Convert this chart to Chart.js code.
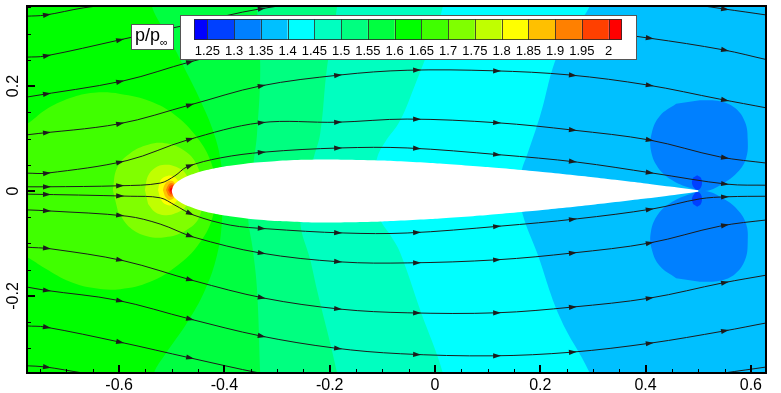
<!DOCTYPE html>
<html>
<head>
<meta charset="utf-8">
<script src="https://cdn.jsdelivr.net/npm/chart.js@4.4.0/dist/chart.umd.min.js"></script>
<style>
  html, body { margin: 0; padding: 0; background: #fff; }
  canvas { display: block; }
</style>
</head>
<body>
<canvas id="chart" width="781" height="393"></canvas>
<script>
// axis ticks
const xTicks = [-0.6, -0.4, -0.2, 0, 0.2, 0.4, 0.6];
const yTicks = [-0.2, 0, 0.2];
const xMinorTicks = [-0.75, -0.7, -0.65, -0.55, -0.5, -0.45, -0.35, -0.3, -0.25, -0.15, -0.1, -0.05,
  0.05, 0.1, 0.15, 0.25, 0.3, 0.35, 0.45, 0.5, 0.55];
const yMinorTicks = [-0.3, -0.25, -0.15, -0.1, -0.05, 0.05, 0.1, 0.15, 0.25, 0.3, 0.35];

// contour levels of p/p_inf and the colour of each interval
const levels = ['1.25', '1.3', '1.35', '1.4', '1.45', '1.5', '1.55', '1.6', '1.65', '1.7', '1.75',
  '1.8', '1.85', '1.9', '1.95', '2'];
const levelColors = ['#0000ff', '#0040ff', '#0080ff', '#00c0ff', '#00ffff', '#00ffc0', '#00ff80', '#00ff40',
  '#00ff00', '#40ff00', '#80ff00', '#c0ff00', '#ffff00', '#ffc000', '#ff8000', '#ff4000', '#ff0000'];

// contour band outlines [x, y]
const bandBase = [[-0.9, 0.6], [0.9, 0.6], [0.9, -0.6], [-0.9, -0.6]];
const band160 = [[-0.541, 0.402], [-0.538, 0.352], [-0.503, 0.288], [-0.477, 0.236], [-0.446, 0.173], [-0.420, 0.110],
  [-0.406, 0.050], [-0.405, 0.002], [-0.405, -0.061], [-0.414, -0.122], [-0.437, -0.189], [-0.471, -0.251],
  [-0.513, -0.312], [-0.534, -0.347], [-0.545, -0.398], [0.9, -0.6], [0.9, 0.6]];
const band155 = [[-0.338, 0.402], [-0.338, 0.352], [-0.332, 0.236], [-0.338, 0.110], [-0.344, 0.059], [-0.351, 0.002],
  [-0.355, -0.050], [-0.346, -0.112], [-0.338, -0.189], [-0.332, -0.347], [-0.330, -0.398], [0.9, -0.6], [0.9, 0.6]];
const band150 = [[-0.184, 0.402], [-0.186, 0.352], [-0.205, 0.236], [-0.218, 0.110], [-0.230, 0.065], [-0.247, 0.002],
  [-0.256, -0.059], [-0.237, -0.131], [-0.224, -0.189], [-0.186, -0.347], [-0.180, -0.398], [0.9, -0.6], [0.9, 0.6]];
const band145 = [[0.019, 0.402], [0.015, 0.352], [-0.009, 0.278], [-0.038, 0.202], [-0.066, 0.135], [-0.095, 0.093],
  [-0.110, 0.063], [-0.120, 0.002], [-0.104, -0.055], [-0.085, -0.084], [-0.066, -0.118], [-0.028, -0.227],
  [0.015, -0.347], [0.021, -0.398], [0.9, -0.6], [0.9, 0.6]];
const band140 = [[0.304, 0.402], [0.294, 0.352], [0.237, 0.269], [0.199, 0.141], [0.175, 0.069], [0.165, 0.040],
  [0.160, 0.002], [0.167, -0.046], [0.194, -0.118], [0.237, -0.240], [0.294, -0.347], [0.310, -0.398],
  [0.9, -0.6], [0.9, 0.6]];
const band135Upper = [[0.503, 0.173], [0.541, 0.171], [0.570, 0.158], [0.589, 0.131], [0.594, 0.097], [0.591, 0.063],
  [0.575, 0.036], [0.545, 0.013], [0.513, 0.000], [0.484, 0.006], [0.450, 0.021], [0.424, 0.044], [0.410, 0.078],
  [0.412, 0.112], [0.427, 0.143], [0.458, 0.166]];
const band135Lower = [[0.503, -0.173], [0.541, -0.171], [0.570, -0.158], [0.589, -0.131], [0.594, -0.097],
  [0.591, -0.063], [0.575, -0.036], [0.545, -0.013], [0.513, 0.000], [0.484, -0.006], [0.450, -0.021],
  [0.424, -0.044], [0.410, -0.078], [0.412, -0.112], [0.427, -0.143], [0.458, -0.166]];
const band130Upper = [[0.498, 0.030], [0.505, 0.025], [0.507, 0.013], [0.503, 0.004], [0.498, 0.002], [0.492, 0.006],
  [0.488, 0.015], [0.490, 0.025]];
const band130Lower = [[0.498, -0.030], [0.505, -0.025], [0.507, -0.013], [0.503, -0.004], [0.498, -0.002],
  [0.492, -0.006], [0.488, -0.015], [0.490, -0.025]];
const band165 = [[-0.807, 0.116], [-0.775, 0.128], [-0.741, 0.154], [-0.693, 0.177], [-0.648, 0.187], [-0.598, 0.185],
  [-0.541, 0.171], [-0.494, 0.145], [-0.456, 0.107], [-0.427, 0.059], [-0.416, 0.002], [-0.424, -0.055],
  [-0.450, -0.103], [-0.488, -0.141], [-0.541, -0.173], [-0.598, -0.187], [-0.648, -0.185], [-0.693, -0.173],
  [-0.741, -0.147], [-0.775, -0.126], [-0.807, -0.116]];
const band170 = [[-0.612, 0.002], [-0.604, 0.044], [-0.579, 0.072], [-0.545, 0.088], [-0.513, 0.091], [-0.481, 0.080],
  [-0.454, 0.053], [-0.441, 0.002], [-0.448, -0.050], [-0.475, -0.076], [-0.513, -0.088], [-0.547, -0.086],
  [-0.579, -0.070], [-0.602, -0.040]];
const band175 = [[-0.551, 0.002], [-0.545, 0.029], [-0.532, 0.044], [-0.513, 0.050], [-0.492, 0.046], [-0.473, 0.032],
  [-0.465, 0.002], [-0.473, -0.029], [-0.492, -0.042], [-0.513, -0.046], [-0.532, -0.040], [-0.545, -0.025]];
const band180 = [[-0.526, 0.002], [-0.522, 0.019], [-0.513, 0.027], [-0.500, 0.029], [-0.488, 0.019], [-0.484, 0.002],
  [-0.488, -0.015], [-0.500, -0.027], [-0.513, -0.025], [-0.522, -0.015]];
const band185 = [[-0.517, 0.002], [-0.513, 0.013], [-0.505, 0.019], [-0.496, 0.017], [-0.492, 0.002], [-0.496, -0.013],
  [-0.505, -0.017], [-0.513, -0.010]];
const band190 = [[-0.511, 0.002], [-0.507, 0.011], [-0.501, 0.015], [-0.494, 0.010], [-0.494, -0.006],
  [-0.501, -0.011], [-0.507, -0.008]];
const band195 = [[-0.507, 0.002], [-0.503, 0.010], [-0.496, 0.010], [-0.496, -0.006], [-0.503, -0.006]];
const band200 = [[-0.504, 0.002], [-0.501, 0.006], [-0.496, 0.005], [-0.496, -0.002], [-0.501, -0.003]];

// NACA 0012 section (chord from -0.5 to 0.5)
const foilX = [0.5, 0.45, 0.4, 0.3, 0.2, 0.1, 0, -0.1, -0.2, -0.25, -0.3, -0.35, -0.4, -0.425, -0.45, -0.475,
  -0.4875, -0.495, -0.4975, -0.5];
const foilHalf = [0.00126, 0.00807, 0.01448, 0.02623, 0.03664, 0.04563, 0.05294, 0.05803, 0.06002, 0.05941,
  0.05737, 0.05345, 0.04683, 0.04200, 0.03555, 0.02615, 0.01894, 0.01221, 0.00872, 0];

// streamlines [x, y]
const stream1 = [[-0.807, 0.331], [-0.775, 0.333], [-0.741, 0.335], [-0.667, 0.349], [-0.579, 0.360], [-0.446, 0.379]];
const stream2 = [[-0.807, 0.253], [-0.775, 0.255], [-0.741, 0.257], [-0.598, 0.288], [-0.465, 0.318], [-0.332, 0.347],
  [-0.161, 0.368], [0.028, 0.375], [0.237, 0.371], [0.408, 0.366], [0.547, 0.347], [0.631, 0.335], [0.66, 0.330]];
const stream3 = [[-0.807, 0.173], [-0.775, 0.179], [-0.591, 0.210], [-0.465, 0.246], [-0.332, 0.278], [-0.192, 0.301],
  [-0.066, 0.312], [0.110, 0.316], [0.260, 0.309], [0.408, 0.291], [0.547, 0.269], [0.631, 0.250], [0.66, 0.244]];
const stream4 = [[-0.807, 0.102], [-0.775, 0.107], [-0.600, 0.128], [-0.465, 0.164], [-0.332, 0.200], [-0.180, 0.221],
  [-0.053, 0.230], [0.110, 0.229], [0.256, 0.221], [0.403, 0.202], [0.541, 0.175], [0.631, 0.158], [0.66, 0.152]];
const stream5 = [[-0.807, 0.034], [-0.775, 0.034], [-0.737, 0.034], [-0.585, 0.058], [-0.471, 0.097], [-0.332, 0.130],
  [-0.186, 0.131], [-0.053, 0.137], [0.118, 0.130], [0.262, 0.116], [0.408, 0.097], [0.541, 0.065], [0.631, 0.053],
  [0.66, 0.050]];
const stream6 = [[-0.807, 0.008], [-0.775, 0.008], [-0.737, 0.008], [-0.598, 0.010], [-0.522, 0.015], [-0.494, 0.029],
  [-0.471, 0.046], [-0.408, 0.063], [-0.325, 0.074], [-0.180, 0.082], [-0.053, 0.082], [0.123, 0.069],
  [0.270, 0.055], [0.414, 0.034], [0.555, 0.013], [0.631, 0.011], [0.66, 0.011]];
const stream7 = [[-0.807, -0.006], [-0.775, -0.006], [-0.579, -0.010], [-0.522, -0.013], [-0.494, -0.027],
  [-0.458, -0.046], [-0.389, -0.065], [-0.319, -0.072], [-0.173, -0.080], [-0.053, -0.080], [0.123, -0.067],
  [0.270, -0.053], [0.414, -0.034], [0.503, -0.015], [0.555, -0.011], [0.631, -0.010], [0.66, -0.010]];
const stream8 = [[-0.807, -0.036], [-0.775, -0.036], [-0.733, -0.038], [-0.585, -0.048], [-0.522, -0.063],
  [-0.458, -0.088], [-0.332, -0.118], [-0.180, -0.135], [-0.053, -0.137], [0.118, -0.131], [0.262, -0.118],
  [0.408, -0.099], [0.541, -0.067], [0.631, -0.055], [0.66, -0.053]];
const stream9 = [[-0.807, -0.103], [-0.775, -0.107], [-0.731, -0.110], [-0.591, -0.133], [-0.458, -0.171],
  [-0.325, -0.204], [-0.180, -0.225], [-0.053, -0.232], [0.118, -0.232], [0.262, -0.221], [0.408, -0.204],
  [0.547, -0.175], [0.631, -0.160], [0.66, -0.155]];
const stream10 = [[-0.807, -0.179], [-0.775, -0.183], [-0.741, -0.189], [-0.604, -0.208], [-0.465, -0.244],
  [-0.332, -0.276], [-0.192, -0.299], [-0.066, -0.310], [0.110, -0.314], [0.260, -0.307], [0.408, -0.290],
  [0.547, -0.267], [0.631, -0.251], [0.66, -0.246]];
const stream11 = [[-0.807, -0.253], [-0.775, -0.257], [-0.741, -0.259], [-0.598, -0.288], [-0.465, -0.318],
  [-0.332, -0.347], [-0.199, -0.370], [0.028, -0.383], [0.237, -0.379], [0.408, -0.368], [0.547, -0.347],
  [0.631, -0.335], [0.66, -0.330]];
const stream12 = [[-0.807, -0.331], [-0.775, -0.333], [-0.741, -0.335], [-0.667, -0.347], [-0.579, -0.360],
  [-0.446, -0.379]];

// x positions of the arrowheads on the streamlines
const arrowX = [-0.737, -0.598, -0.465, -0.329, -0.184, -0.034, 0.118, 0.262, 0.408, 0.551];

const FONT = '"Liberation Sans", Arial, Helvetica, sans-serif';

// painting order: bottom first
const bands = [
  [bandBase, 8], [band160, 7], [band155, 6], [band150, 5], [band145, 4], [band140, 3],
  [band135Upper, 2], [band135Lower, 2], [band130Upper, 1], [band130Lower, 1],
  [band165, 9], [band170, 10], [band175, 11], [band180, 12], [band185, 13], [band190, 14],
  [band195, 15], [band200, 16]
];
const streams = [stream1, stream2, stream3, stream4, stream5, stream6, stream7, stream8, stream9, stream10,
  stream11, stream12];

const toPts = arr => arr.map(([x, y]) => ({ x, y }));

const datasets = [];
bands.forEach(([pts, ci], i) => {
  datasets.push({
    data: toPts(pts),
    showLine: true,
    fill: 'shape',
    backgroundColor: levelColors[ci],
    borderColor: 'rgba(0,0,0,0)',
    borderWidth: 0,
    tension: i === 0 ? 0 : 0.4
  });
});

// airfoil: upper surface TE -> LE, lower surface LE -> TE
const foil = [];
foilX.forEach((x, i) => foil.push({ x, y: foilHalf[i] }));
for (let i = foilX.length - 2; i >= 0; i--) foil.push({ x: foilX[i], y: -foilHalf[i] });
datasets.push({
  data: foil,
  showLine: true,
  fill: 'shape',
  backgroundColor: '#ffffff',
  borderColor: 'rgba(0,0,0,0)',
  borderWidth: 0,
  tension: 0.2
});

streams.forEach(s => {
  datasets.push({
    data: toPts(s),
    showLine: true,
    fill: false,
    borderColor: '#1c1c1c',
    borderWidth: 1,
    tension: 0.35,
    isStream: true
  });
});

datasets.forEach((d, i) => { d.order = datasets.length - i; });

function bez(a, b, c, d, t) {
  const u = 1 - t;
  return u * u * u * a + 3 * u * u * t * b + 3 * u * t * t * c + t * t * t * d;
}
function bezD(a, b, c, d, t) {
  const u = 1 - t;
  return 3 * u * u * (b - a) + 6 * u * t * (c - b) + 3 * t * t * (d - c);
}

// arrowheads along the streamlines
const arrowPlugin = {
  id: 'streamArrows',
  afterDatasetsDraw(chart) {
    const ctx = chart.ctx;
    const area = chart.chartArea;
    const xs = chart.scales.x;
    ctx.save();
    ctx.fillStyle = '#1c1c1c';
    chart.data.datasets.forEach((ds, i) => {
      if (!ds.isStream) return;
      const pts = chart.getDatasetMeta(i).data;
      arrowX.forEach(ax => {
        const px = xs.getPixelForValue(ax);
        for (let j = 0; j < pts.length - 1; j++) {
          const p = pts[j], q = pts[j + 1];
          if (px < p.x || px > q.x) continue;
          const c = [p.x, p.cp2x ?? p.x, q.cp1x ?? q.x, q.x];
          const r = [p.y, p.cp2y ?? p.y, q.cp1y ?? q.y, q.y];
          let lo = 0, hi = 1;
          for (let k = 0; k < 30; k++) {
            const m = (lo + hi) / 2;
            if (bez(c[0], c[1], c[2], c[3], m) < px) lo = m; else hi = m;
          }
          const t = (lo + hi) / 2;
          const x = bez(c[0], c[1], c[2], c[3], t);
          const y = bez(r[0], r[1], r[2], r[3], t);
          if (y < area.top + 2 || y > area.bottom - 2) break;
          const ang = Math.atan2(bezD(r[0], r[1], r[2], r[3], t), bezD(c[0], c[1], c[2], c[3], t));
          ctx.save();
          ctx.translate(x, y);
          ctx.rotate(ang);
          ctx.beginPath();
          ctx.moveTo(4, 0);
          ctx.lineTo(-4, -2.6);
          ctx.lineTo(-4, 2.6);
          ctx.closePath();
          ctx.fill();
          ctx.restore();
          break;
        }
      });
    });
    ctx.restore();
  }
};

// frame, inward ticks, y labels, colour bar
const decorPlugin = {
  id: 'decor',
  afterDraw(chart) {
    const ctx = chart.ctx;
    const a = chart.chartArea;
    const xs = chart.scales.x, ys = chart.scales.y;
    ctx.save();
    ctx.strokeStyle = '#000';

    // ticks
    ctx.lineWidth = 1;
    ctx.beginPath();
    xMinorTicks.forEach(v => {
      const x = Math.round(xs.getPixelForValue(v)) + 0.5;
      ctx.moveTo(x, a.bottom); ctx.lineTo(x, a.bottom - 4);
    });
    yMinorTicks.forEach(v => {
      const y = Math.round(ys.getPixelForValue(v)) + 0.5;
      ctx.moveTo(a.left, y); ctx.lineTo(a.left + 4, y);
    });
    ctx.stroke();
    ctx.lineWidth = 2;
    ctx.beginPath();
    xTicks.forEach(v => {
      const x = Math.round(xs.getPixelForValue(v));
      ctx.moveTo(x, a.bottom); ctx.lineTo(x, a.bottom - 8);
    });
    yTicks.forEach(v => {
      const y = Math.round(ys.getPixelForValue(v));
      ctx.moveTo(a.left, y); ctx.lineTo(a.left + 8, y);
    });
    ctx.stroke();

    // frame
    ctx.lineWidth = 2;
    ctx.strokeRect(a.left, a.top, a.right - a.left, a.bottom - a.top);

    // y tick labels (rotated)
    ctx.fillStyle = '#000';
    ctx.font = '16px ' + FONT;
    ctx.textAlign = 'center';
    ctx.textBaseline = 'middle';
    yTicks.forEach(v => {
      const y = ys.getPixelForValue(v);
      ctx.save();
      ctx.translate(14, y);
      ctx.rotate(-Math.PI / 2);
      ctx.fillText(v === 0 ? '0' : String(v), 0, 0);
      ctx.restore();
    });

    // colour bar box
    ctx.fillStyle = '#fff';
    ctx.fillRect(180, 15, 457, 45);
    ctx.lineWidth = 1;
    ctx.strokeStyle = '#555';
    ctx.strokeRect(180.5, 15.5, 456, 44);
    const cbL = 194, cbR = 622, cbT = 19, cbB = 40;
    const unit = (cbR - cbL) / (levelColors.length - 1);
    levelColors.forEach((col, i) => {
      const x0 = i === 0 ? cbL : cbL + unit * (i - 0.5);
      const x1 = i === levelColors.length - 1 ? cbR : cbL + unit * (i + 0.5);
      ctx.fillStyle = col;
      ctx.fillRect(x0, cbT, x1 - x0, cbB - cbT);
    });
    ctx.strokeStyle = 'rgba(40,40,40,0.8)';
    ctx.beginPath();
    for (let i = 0; i < levels.length; i++) {
      const x = Math.round(cbL + unit * (i + 0.5)) + 0.5;
      ctx.moveTo(x, cbT); ctx.lineTo(x, cbB);
    }
    ctx.stroke();
    ctx.strokeRect(cbL + 0.5, cbT + 0.5, cbR - cbL - 1, cbB - cbT - 1);
    ctx.fillStyle = '#000';
    ctx.font = '13px ' + FONT;
    ctx.textAlign = 'center';
    ctx.textBaseline = 'middle';
    levels.forEach((l, i) => ctx.fillText(l, cbL + unit * (i + 0.5), 51.5));

    // title box
    ctx.fillStyle = '#fff';
    ctx.fillRect(131, 24, 43, 26);
    ctx.strokeStyle = '#555';
    ctx.strokeRect(131.5, 24.5, 42, 25);
    ctx.fillStyle = '#000';
    ctx.textAlign = 'left';
    ctx.textBaseline = 'alphabetic';
    ctx.font = '18px ' + FONT;
    ctx.fillText('p/p', 135, 41);
    const w = ctx.measureText('p/p').width;
    ctx.font = '11px ' + FONT;
    ctx.fillText('\u221e', 135 + w, 46);
    ctx.restore();
  }
};

new Chart(document.getElementById('chart'), {
  type: 'scatter',
  data: { datasets },
  options: {
    responsive: false,
    animation: false,
    events: [],
    devicePixelRatio: 1,
    layout: { padding: { left: 0, right: 15, top: 6, bottom: 0 } },
    elements: {
      point: { radius: 0, hoverRadius: 0 },
      line: { capBezierPoints: false }
    },
    plugins: { legend: { display: false }, tooltip: { enabled: false } },
    scales: {
      x: {
        type: 'linear',
        min: -0.775,
        max: 0.6287,
        afterBuildTicks: s => { s.ticks = xTicks.map(v => ({ value: v })); },
        afterFit: s => { s.height = 20; },
        grid: { display: false, drawTicks: false },
        border: { display: false },
        ticks: {
          autoSkip: false,
          maxRotation: 0,
          padding: 3,
          color: '#000',
          font: { family: FONT, size: 16 },
          callback: v => (v === 0 ? '0' : String(Math.round(v * 10) / 10))
        }
      },
      y: {
        type: 'linear',
        min: -0.3467,
        max: 0.3524,
        afterBuildTicks: s => { s.ticks = yTicks.map(v => ({ value: v })); },
        afterFit: s => { s.width = 27; },
        grid: { display: false, drawTicks: false },
        border: { display: false },
        ticks: { display: false }
      }
    }
  },
  plugins: [arrowPlugin, decorPlugin]
});
</script>
</body>
</html>
